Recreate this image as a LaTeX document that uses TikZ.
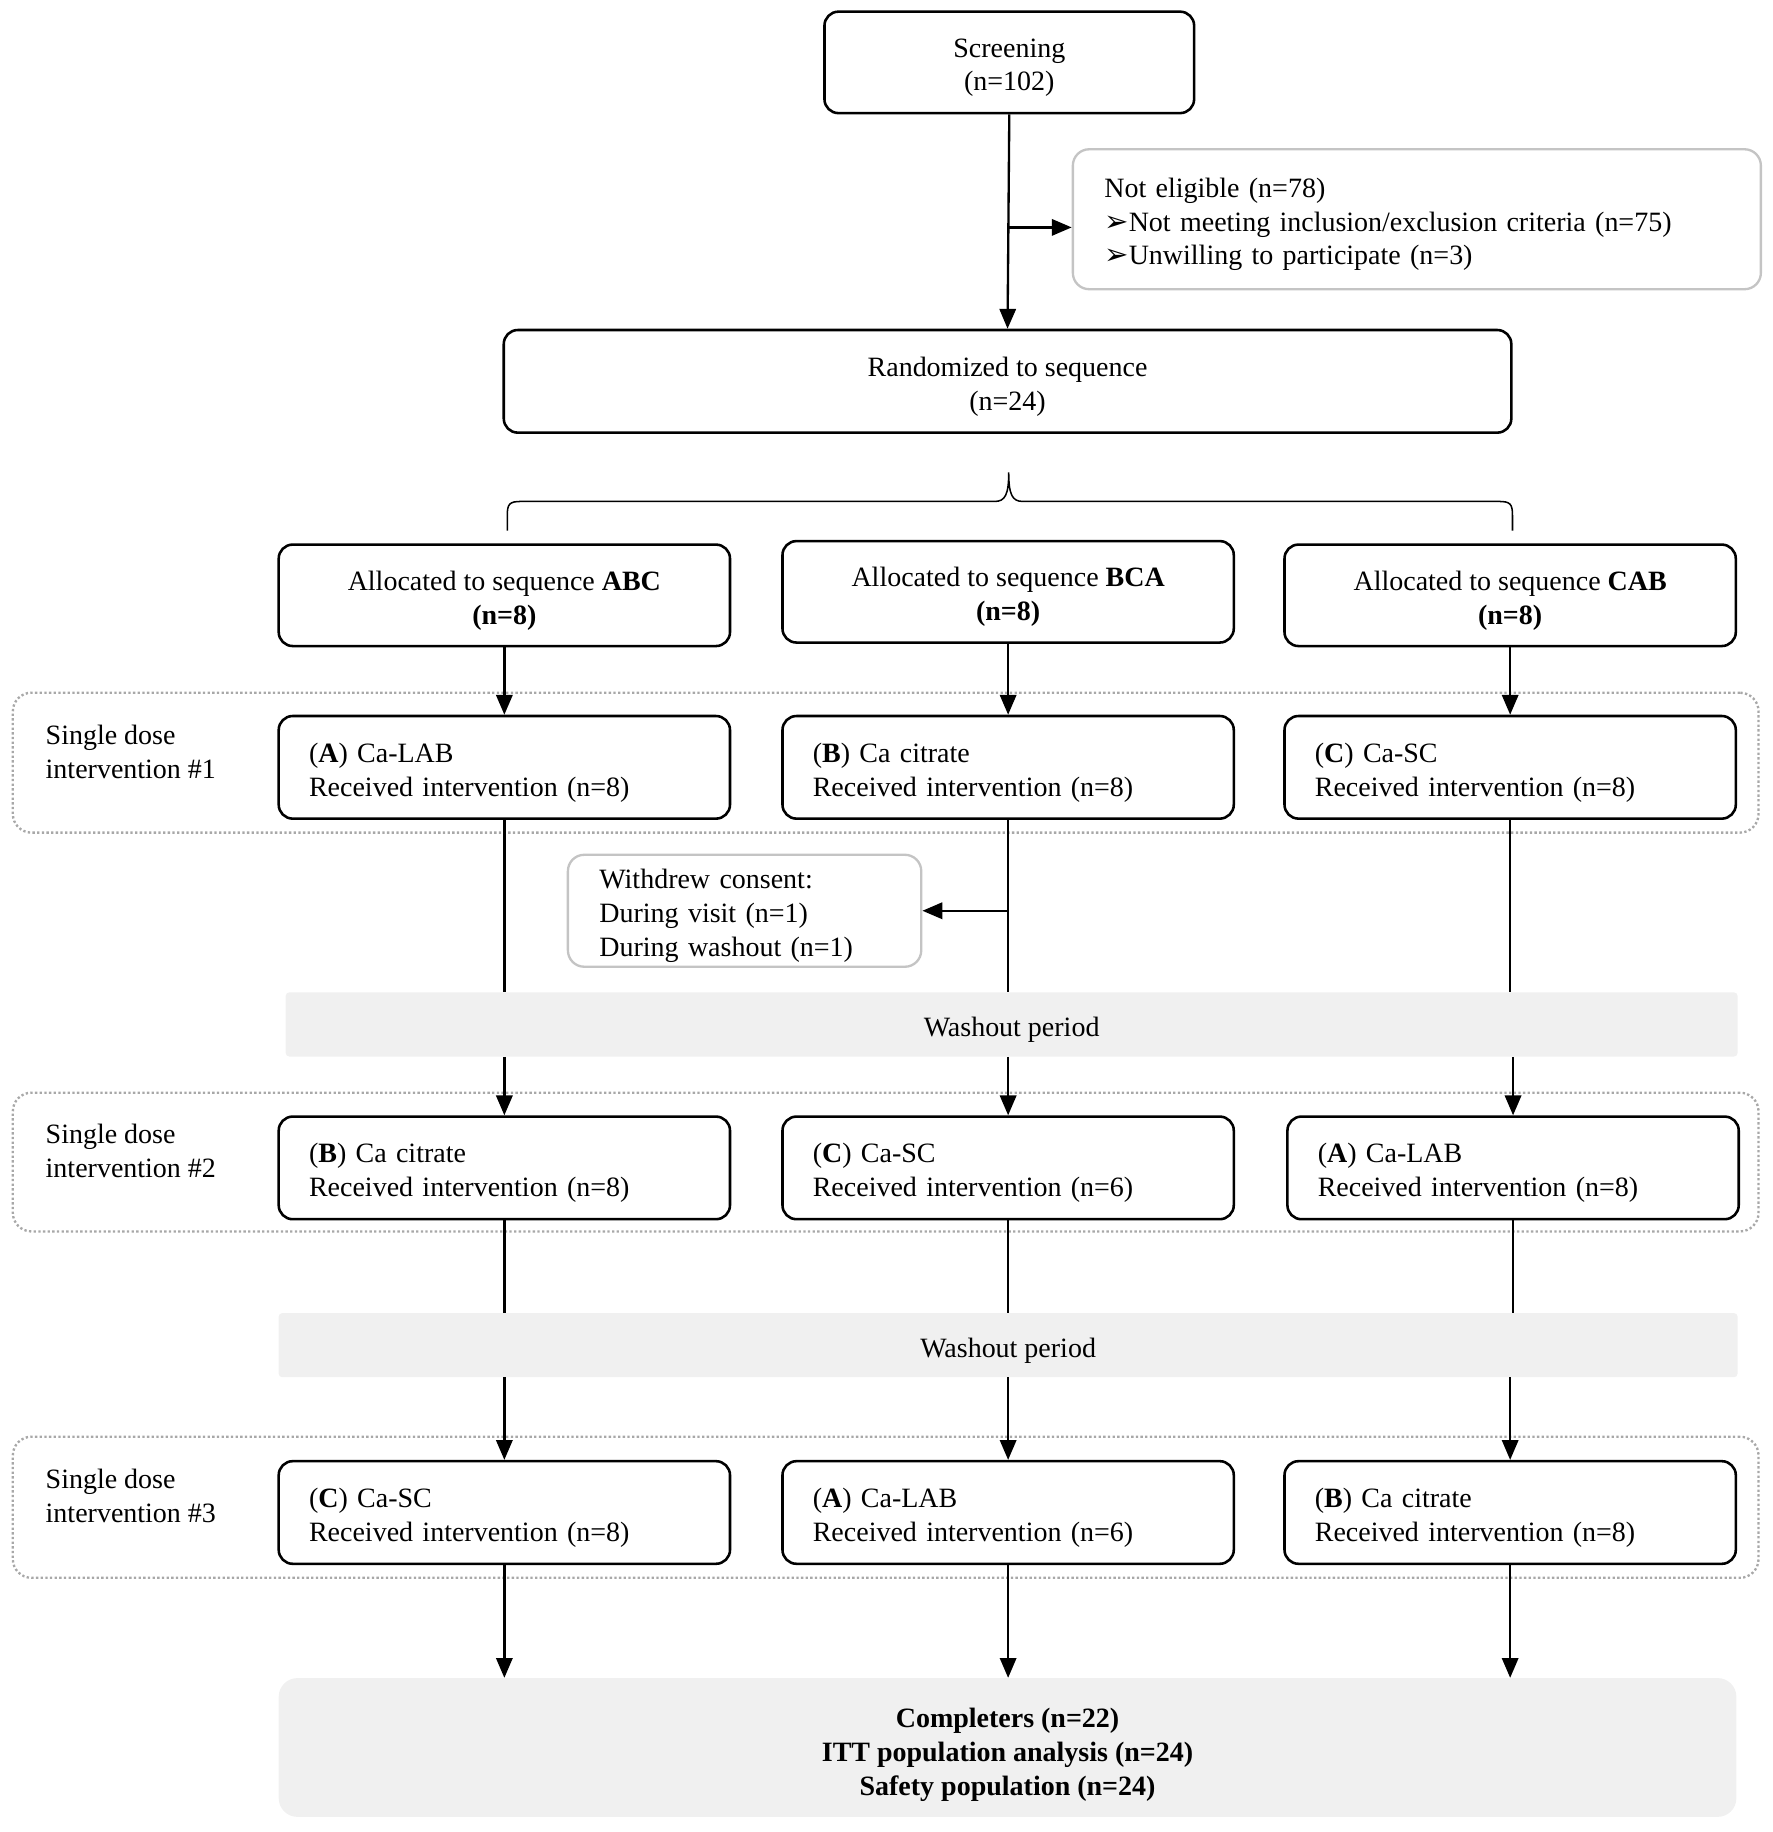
\documentclass[tikz,border=0pt]{standalone}
\usepackage{fontspec}
\setmainfont{Liberation Serif}
\newfontfamily\djv{DejaVu Sans}
\usetikzlibrary{arrows.meta,calc}
\definecolor{washgray}{HTML}{F0F0F0}
\definecolor{lightborder}{HTML}{C4C4C4}
\definecolor{dotgray}{HTML}{A8A8A8}
\tikzset{
  box/.style={draw=black, line width=2.2pt, rounded corners=12pt, minimum width=387pt, minimum height=88pt, inner sep=0pt},
  gbox/.style={draw=lightborder, line width=2pt, rounded corners=14pt, inner sep=0pt},
  group/.style={draw=dotgray, line width=2pt, dash pattern=on 2pt off 2pt, rounded corners=16pt, minimum width=1497pt},
  wash/.style={fill=washgray, rounded corners=3pt, minimum height=55pt, inner sep=0pt},
  ltext/.style={text width=335pt, align=left, inner sep=0pt},
  ctext/.style={align=center, inner sep=0pt},
  conn/.style={line width=2pt, draw=black},
  arr/.style={conn, -{Triangle[length=17pt,width=14pt]}},
  grouplabel/.style={anchor=west, align=left, inner sep=0pt}
}
\newcommand{\bul}{{\djv\fontsize{25}{29}\selectfont ➢}}
% #1 box style, #2 name, #3 position, #4 text style, #5 text
\newcommand{\mkbox}[5]{%
  \node[#1] (#2) at #3 {};
  \node[#4] (#2t) at ($(#2.center)+(0,4.5)$) {#5};}
\begin{document}
\begin{tikzpicture}[x=1pt,y=-1pt,font=\fontsize{24}{29}\selectfont]
\useasboundingbox (0,0) rectangle (1520,1571);

% dotted groups
\node[group, minimum height=120pt] (g1) at (759.5,654) {};
\node[group, minimum height=119pt] (g2) at (759.5,996.5) {};
\node[group, minimum height=121pt] (g3) at (759.5,1292.5) {};
\node[grouplabel] (l1) at (39,645) {Single dose\\intervention \#1};
\node[grouplabel] (l2) at (39,987) {Single dose\\intervention \#2};
\node[grouplabel] (l3) at (39,1283) {Single dose\\intervention \#3};

% top
\mkbox{box, minimum width=317pt, minimum height=87pt}{scr}{(865.5,53.5)}{ctext}{Screening\\(n=102)}
\mkbox{gbox, minimum width=590pt, minimum height=120pt}{ne}{(1215,188)}{text width=536pt, align=left, inner sep=0pt}
  {Not eligible (n=78)\\\bul Not meeting inclusion/exclusion criteria (n=75)\\\bul Unwilling to participate (n=3)}
\mkbox{box, minimum width=864pt}{rand}{(864,327)}{ctext}{Randomized to sequence\\(n=24)}

% brace
\draw[line width=1.3pt] (435,455) -- (435,442) .. controls (435,432) and (437,430) .. (447,430) -- (853,430) .. controls (862,430) and (865,424) .. (865,405) .. controls (865,424) and (868,430) .. (877,430) -- (1285,430) .. controls (1295,430) and (1297,432) .. (1297,442) -- (1297,455);

% allocated
\mkbox{box, minimum height=87pt}{a1}{(432.5,510.5)}{ctext}{Allocated to sequence \textbf{ABC}\\\textbf{(n=8)}}
\mkbox{box, minimum height=87pt}{a2}{(864.5,507.5)}{ctext}{Allocated to sequence \textbf{BCA}\\\textbf{(n=8)}}
\mkbox{box, minimum height=87pt}{a3}{(1295,510.5)}{ctext}{Allocated to sequence \textbf{CAB}\\\textbf{(n=8)}}

% intervention 1
\mkbox{box}{i11}{(432.5,658)}{ltext}{(\textbf{A}) Ca-LAB\\Received intervention (n=8)}
\mkbox{box}{i12}{(864.5,658)}{ltext}{(\textbf{B}) Ca citrate\\Received intervention (n=8)}
\mkbox{box}{i13}{(1295,658)}{ltext}{(\textbf{C}) Ca-SC\\Received intervention (n=8)}

% withdrew
\mkbox{gbox, minimum width=303pt, minimum height=96pt}{wd}{(638.5,781)}{text width=249pt, align=left, inner sep=0pt}
  {Withdrew consent:\\During visit (n=1)\\During washout (n=1)}

% washout 1
\mkbox{wash, minimum width=1245pt}{w1}{(867.5,878.5)}{ctext}{Washout period}

% intervention 2
\mkbox{box}{i21}{(432.5,1001.5)}{ltext}{(\textbf{B}) Ca citrate\\Received intervention (n=8)}
\mkbox{box}{i22}{(864.5,1001.5)}{ltext}{(\textbf{C}) Ca-SC\\Received intervention (n=6)}
\mkbox{box}{i23}{(1297.5,1001.5)}{ltext}{(\textbf{A}) Ca-LAB\\Received intervention (n=8)}

% washout 2
\mkbox{wash, minimum width=1251pt}{w2}{(864.5,1153.5)}{ctext}{Washout period}

% intervention 3
\mkbox{box}{i31}{(432.5,1297)}{ltext}{(\textbf{C}) Ca-SC\\Received intervention (n=8)}
\mkbox{box}{i32}{(864.5,1297)}{ltext}{(\textbf{A}) Ca-LAB\\Received intervention (n=6)}
\mkbox{box}{i33}{(1295,1297)}{ltext}{(\textbf{B}) Ca citrate\\Received intervention (n=8)}

% final
\node[fill=washgray, rounded corners=16pt, minimum width=1250pt, minimum height=119pt, inner sep=0pt] (fin) at (864,1498.5) {};
\node[ctext, font=\fontsize{24}{29}\selectfont\bfseries] (fint) at ($(fin.center)+(0,6.5)$)
  {Completers (n=22)\\ITT population analysis (n=24)\\Safety population (n=24)};

% connectors top
\draw[arr] (scr.south) -- (rand.north);
\draw[arr] ($(scr.south |- ne.west)+(0,7)$) -- ($(ne.west)+(0,7)$);

% columns
\foreach \a/\b/\c/\d in {a1/i11/i21/i31, a2/i12/i22/i32, a3/i13/i23/i33}{
  \draw[arr] (\a.south) -- (\b.north);
  \draw[conn] (\b.south) -- (\b.south |- w1.north);
  \draw[arr] (\c.north |- w1.south) -- (\c.north);
  \draw[conn] (\c.south) -- (\c.south |- w2.north);
  \draw[arr] (\d.north |- w2.south) -- (\d.north);
  \draw[arr] (\d.south) -- (\d.south |- fin.north);
}
\draw[arr] (i12.south |- wd.east) -- (wd.east);
\end{tikzpicture}
\end{document}
